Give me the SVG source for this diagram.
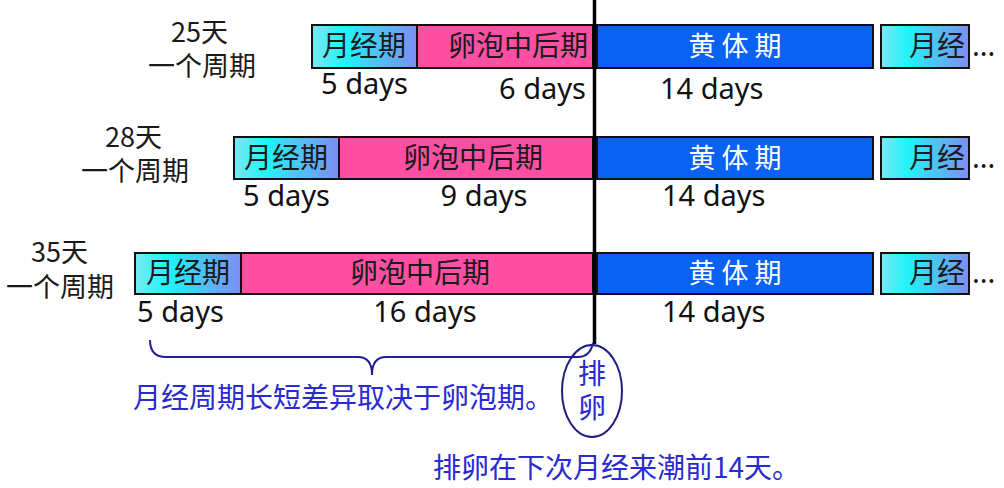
<svg xmlns="http://www.w3.org/2000/svg" width="1004" height="488" viewBox="0 0 1004 488">
<defs>
<linearGradient id="mens" x1="0" y1="0" x2="1" y2="0">
<stop offset="0" stop-color="#7ae8f4"/>
<stop offset="0.3" stop-color="#20f4f8"/>
<stop offset="1" stop-color="#7f8cf2"/>
</linearGradient>
<style>
.box{stroke:#111;stroke-width:2}
.m{fill:url(#mens)}
.p{fill:#ff4fa3}
.b{fill:#0a62f4}
.cj{font-family:"Noto Sans CJK SC","Noto Sans",sans-serif;font-size:28px;fill:#1a1a1a}
.lbl{font-family:"Noto Sans CJK SC","Noto Sans",sans-serif;font-size:27px;fill:#1a1a1a}
.lat{font-family:"Noto Sans","Open Sans",sans-serif;font-size:29px;fill:#111}
.w{fill:#ffffff;font-size:27px}
.blue{fill:#2a2ad2}
</style>
</defs>
<rect width="1004" height="488" fill="#ffffff"/>

<g id="row1">
<text class="lbl"><tspan x="171" y="42">25天</tspan><tspan x="148" y="76">一个周期</tspan></text>
<g id="r1-mens"><rect class="box m" x="312" y="25" width="105" height="43"/><text class="cj" x="364" y="56" text-anchor="middle">月经期</text></g>
<g id="r1-foll"><rect class="box p" x="417" y="25" width="176" height="43"/><text class="cj" x="588" y="56" text-anchor="end">卵泡中后期</text></g>
<g id="r1-lut"><rect class="box b" x="597" y="25" width="276" height="43"/><text class="cj w" x="735" y="56" text-anchor="middle">黄 体 期</text></g>
<g id="r1-next"><rect class="box m" x="881" y="25" width="88" height="43"/><text class="cj" x="937" y="56" text-anchor="middle">月经</text><text class="lat" x="972" y="56">...</text></g>
<text class="lat" x="321" y="94">5 days</text>
<text class="lat" x="586" y="99" text-anchor="end">6 days</text>
<text class="lat" x="660" y="99">14 days</text>
</g>

<g id="row2">
<text class="lbl"><tspan x="105" y="147">28天</tspan><tspan x="81" y="181">一个周期</tspan></text>
<g id="r2-mens"><rect class="box m" x="234" y="137" width="105" height="42"/><text class="cj" x="286" y="168" text-anchor="middle">月经期</text></g>
<g id="r2-foll"><rect class="box p" x="339" y="137" width="254" height="42"/><text class="cj" x="473" y="168" text-anchor="middle">卵泡中后期</text></g>
<g id="r2-lut"><rect class="box b" x="597" y="137" width="276" height="42"/><text class="cj w" x="735" y="168" text-anchor="middle">黄 体 期</text></g>
<g id="r2-next"><rect class="box m" x="881" y="137" width="88" height="42"/><text class="cj" x="937" y="168" text-anchor="middle">月经</text><text class="lat" x="972" y="168">...</text></g>
<text class="lat" x="243" y="206">5 days</text>
<text class="lat" x="484" y="206" text-anchor="middle">9 days</text>
<text class="lat" x="662" y="206">14 days</text>
</g>

<g id="row3">
<text class="lbl"><tspan x="31" y="262">35天</tspan><tspan x="6" y="297">一个周期</tspan></text>
<g id="r3-mens"><rect class="box m" x="135" y="253" width="106" height="41"/><text class="cj" x="188" y="283" text-anchor="middle">月经期</text></g>
<g id="r3-foll"><rect class="box p" x="241" y="253" width="352" height="41"/><text class="cj" x="420" y="283" text-anchor="middle">卵泡中后期</text></g>
<g id="r3-lut"><rect class="box b" x="597" y="253" width="276" height="41"/><text class="cj w" x="735" y="283" text-anchor="middle">黄 体 期</text></g>
<g id="r3-next"><rect class="box m" x="881" y="253" width="88" height="41"/><text class="cj" x="937" y="283" text-anchor="middle">月经</text><text class="lat" x="972" y="283">...</text></g>
<text class="lat" x="137" y="322">5 days</text>
<text class="lat" x="425" y="322" text-anchor="middle">16 days</text>
<text class="lat" x="662" y="322">14 days</text>
</g>

<g id="connectors">
<line x1="594.5" y1="0" x2="594.5" y2="344" stroke="#000" stroke-width="3.5"/>
<path d="M150,340 Q150,357 166,357 L358,357 Q372,357 372,375 Q372,357 386,357 L578,357 Q590,357 593,343" fill="none" stroke="#1e1e96" stroke-width="2"/>
</g>

<g id="ovulation">
<ellipse cx="592" cy="391" rx="30" ry="46" fill="none" stroke="#1e1e80" stroke-width="2"/>
<text class="cj blue" text-anchor="middle" font-size="26"><tspan x="592" y="384">排</tspan><tspan x="592" y="418">卵</tspan></text>
</g>

<g id="notes">
<text class="cj blue" x="133" y="408" font-size="28.5">月经周期长短差异取决于卵泡期。</text>
<text class="cj blue" x="433" y="478">排卵在下次月经来潮前14天。</text>
</g>
</svg>
